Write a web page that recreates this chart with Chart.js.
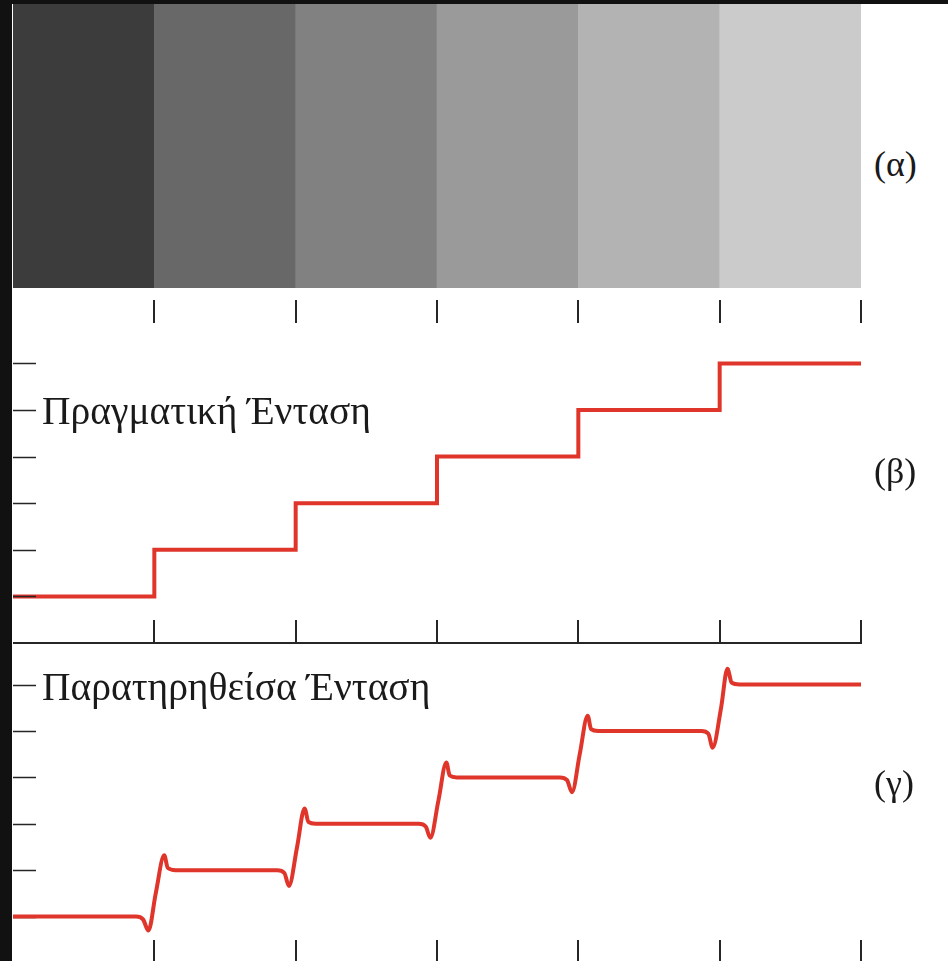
<!DOCTYPE html>
<html lang="el">
<head>
<meta charset="utf-8">
<title>Ζώνες Mach</title>
<script src="https://cdn.jsdelivr.net/npm/chart.js@4/dist/chart.umd.min.js"></script>
<style>
  html, body { margin: 0; padding: 0; }
  body { width: 948px; height: 961px; overflow: hidden; background: #ffffff; position: relative; }
  canvas { position: absolute; display: block; }
  .bar { position: absolute; background: #111111; z-index: 5; }
  .lbl { position: absolute; font-family: "Liberation Serif", "DejaVu Serif", serif; color: #1a1a1a; white-space: nowrap; line-height: 1; }
  .part { font-size: 36px; }
  .title { font-size: 39.5px; }
</style>
</head>
<body>
<div class="bar" style="left:0;top:0;width:948px;height:4px"></div>
<div class="bar" style="left:0;top:0;width:12px;height:961px"></div>

<canvas id="bands" width="848" height="284" style="left:13px;top:4px"></canvas>
<canvas id="actual" width="948" height="356" style="left:0;top:290px"></canvas>
<canvas id="observed" width="948" height="320" style="left:0;top:646px"></canvas>

<div class="lbl part" style="left:874px;top:146px">(α)</div>
<div class="lbl part" style="left:874px;top:453px">(β)</div>
<div class="lbl part" style="left:874px;top:765px">(γ)</div>
<div class="lbl title" style="left:42px;top:392px">Πραγματική Ένταση</div>
<div class="lbl title" style="left:42px;top:668px">Παρατηρηθείσα Ένταση</div>

<script>
// Six uniform gray bands, darkest on the left
const bandNames = ['1', '2', '3', '4', '5', '6'];
const bandShades = ['#3c3c3c', '#686868', '#818181', '#9a9a9a', '#b3b3b3', '#cbcbcb'];
const bandFill = [1, 1, 1, 1, 1, 1];

// Band edges along the strip and the intensity levels marked on the left
const edgeTicks = [1, 2, 3, 4, 5, 6];
const levelTicks = [0, 1, 2, 3, 4, 5];

// Physical intensity: one constant level per band (step function)
const actualX = [0, 1, 2, 3, 4, 5, 6];
const actualY = [0, 1, 2, 3, 4, 5, 5];

// Perceived intensity: undershoot before each edge, overshoot after it
const observedX = [0, 0.87, 0.92, 0.958, 1.01, 1.07, 1.095, 1.15,
                   1.87, 1.92, 1.952, 2.01, 2.063, 2.09, 2.14,
                   2.87, 2.92, 2.953, 3.01, 3.066, 3.09, 3.14,
                   3.87, 3.92, 3.955, 4.01, 4.066, 4.09, 4.14,
                   4.87, 4.92, 4.95, 5.01, 5.055, 5.085, 5.14, 6];
const observedY = [0, 0, -0.06, -0.3, 0.5, 1.32, 1.05, 1.0,
                   1, 0.94, 0.66, 1.5, 2.33, 2.04, 2,
                   2, 1.94, 1.7, 2.5, 3.32, 3.04, 3,
                   3, 2.94, 2.68, 3.5, 4.33, 4.04, 4,
                   4, 3.94, 3.64, 4.5, 5.34, 5.04, 5, 5];

const RED = '#e0352b';
const INK = '#262626';

// Short tick marks drawn along the plot frame, placed through the chart's scales
const frameTicks = {
  id: 'frameTicks',
  draw(chart, o) {
    const { ctx, chartArea: a, scales: { x, y } } = chart;
    ctx.save();
    ctx.strokeStyle = INK;
    ctx.lineCap = 'butt';
    ctx.lineWidth = 2;
    ctx.beginPath();
    edgeTicks.forEach(v => {
      const px = Math.round(x.getPixelForValue(v));
      if (o.top) { ctx.moveTo(px, a.top); ctx.lineTo(px, a.top + o.len); }
      if (o.bottom) { ctx.moveTo(px, a.bottom); ctx.lineTo(px, a.bottom - o.len); }
    });
    if (o.baseline) { ctx.moveTo(a.left, a.bottom); ctx.lineTo(a.right + 1, a.bottom); }
    ctx.stroke();
    ctx.lineWidth = 1.6;
    ctx.beginPath();
    levelTicks.forEach(v => {
      const py = Math.round(y.getPixelForValue(v)) + 0.5;
      ctx.moveTo(a.left, py); ctx.lineTo(a.left + o.len, py);
    });
    ctx.stroke();
    ctx.restore();
  },
  beforeDatasetsDraw(chart, args, o) { if (!o.onTop) this.draw(chart, o); },
  afterDatasetsDraw(chart, args, o) { if (o.onTop) this.draw(chart, o); }
};

const hiddenAxes = (yMin, yMax) => ({
  x: { type: 'linear', min: 0, max: 6, display: false },
  y: { type: 'linear', min: yMin, max: yMax, display: false }
});

// (α) gray bands
new Chart(document.getElementById('bands'), {
  type: 'bar',
  data: {
    labels: bandNames,
    datasets: [{
      data: bandFill,
      backgroundColor: bandShades,
      borderWidth: 0,
      barPercentage: 1,
      categoryPercentage: 1
    }]
  },
  options: {
    responsive: false,
    animation: false,
    devicePixelRatio: 1,
    layout: { padding: 0 },
    plugins: { legend: { display: false }, tooltip: { enabled: false } },
    scales: {
      x: { display: false },
      y: { display: false, min: 0, max: 1 }
    }
  }
});

// (β) actual intensity
new Chart(document.getElementById('actual'), {
  type: 'line',
  data: {
    datasets: [{
      data: actualX.map((v, i) => ({ x: v, y: actualY[i] })),
      borderColor: RED,
      borderWidth: 4,
      stepped: 'before',
      borderJoinStyle: 'miter',
      borderCapStyle: 'butt',
      pointRadius: 0,
      fill: false
    }]
  },
  options: {
    responsive: false,
    animation: false,
    devicePixelRatio: 1,
    layout: { padding: { left: 13, right: 87, top: 10, bottom: 3 } },
    plugins: {
      legend: { display: false },
      tooltip: { enabled: false },
      frameTicks: { top: true, bottom: true, baseline: true, len: 23, onTop: true }
    },
    scales: hiddenAxes(-1, 6.36)
  },
  plugins: [frameTicks]
});

// (γ) perceived intensity
new Chart(document.getElementById('observed'), {
  type: 'line',
  data: {
    datasets: [{
      data: observedX.map((v, i) => ({ x: v, y: observedY[i] })),
      borderColor: RED,
      borderWidth: 4,
      cubicInterpolationMode: 'monotone',
      borderJoinStyle: 'round',
      borderCapStyle: 'butt',
      pointRadius: 0,
      fill: false
    }]
  },
  options: {
    responsive: false,
    animation: false,
    devicePixelRatio: 1,
    layout: { padding: { left: 13, right: 87, top: 4, bottom: 3 } },
    plugins: {
      legend: { display: false },
      tooltip: { enabled: false },
      frameTicks: { top: false, bottom: true, baseline: true, len: 23, onTop: false }
    },
    scales: hiddenAxes(-1, 5.745)
  },
  plugins: [frameTicks]
});
</script>
</body>
</html>
